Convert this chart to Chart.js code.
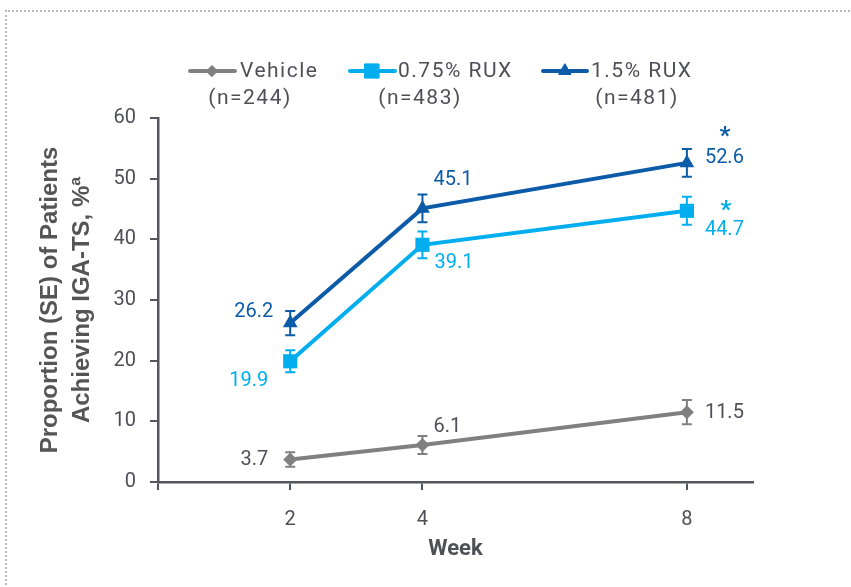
<!DOCTYPE html>
<html>
<head>
<meta charset="utf-8">
<script src="https://cdn.jsdelivr.net/npm/chart.js@4.4.1/dist/chart.umd.min.js"></script>
<style>
  html, body { margin: 0; padding: 0; background: #fff; }
  #wrap { position: relative; width: 851px; height: 587px; overflow: hidden; }
  #frame { position: absolute; left: 5px; top: 10px; right: -10px; bottom: -10px;
           border-top: 2px dotted #b8b8b8; border-left: 2px dotted #b8b8b8; }
  #c { position: absolute; left: 0; top: 0; }
</style>
</head>
<body>
<div id="wrap"><div id="frame"></div><canvas id="c" width="851" height="587"></canvas></div>
<script>
// ---- data ----
const weeks = [2, 4, 8];
const xTickLabels = ['2', '4', '8'];
const yTicks = [0, 10, 20, 30, 40, 50, 60];

const seriesNames = ['Vehicle', '0.75% RUX', '1.5% RUX'];
const seriesN = ['(n=244)', '(n=483)', '(n=481)'];

const vehicle   = [3.7, 6.1, 11.5];
const vehicleSE = [1.2, 1.5, 2.0];
const rux075    = [19.9, 39.1, 44.7];
const rux075SE  = [1.8, 2.2, 2.3];
const rux15     = [26.2, 45.1, 52.6];
const rux15SE   = [2.0, 2.3, 2.3];

// significance markers (asterisk) per point
const vehicleSig = [false, false, false];
const rux075Sig  = [false, false, true];
const rux15Sig   = [false, false, true];

// ---- styling ----
const TEXT = '#4f4f58';
const AXIS = '#55555d';
const GRAY = '#808080';
const LIGHT = '#00aeef';
const DARK = '#0b5ba8';
const FONT = 'Roboto';

// value label placement relative to each point: [dx, dy, align]
const labelPos = [
  [[-22, 0, 'right'], [25, -18, 'center'], [18, 1, 'left']],
  [[-22, 20, 'right'], [12, 18, 'left'], [18, 19, 'left']],
  [[-17, -11, 'right'], [11, -28, 'left'], [18, -5, 'left']]
];
const starPos = [[0, 0], [0, 0], [39, -7]];
const starPos2 = [[0, 0], [0, 0], [38, -33]];

// legend layout
const legendLayout = [
  { x1: 190, x2: 235, mx: 212, tx: 240, nx: 250, r: 5.5, style: 'rectRot' },
  { x1: 350, x2: 395, mx: 372, tx: 398, nx: 420, r: 10, style: 'rect' },
  { x1: 543, x2: 587, mx: 565, tx: 591, nx: 637, r: 7, style: 'triangle' }
];

const pts = arr => arr.map((v, i) => ({ x: weeks[i], y: v }));

const seriesMeta = [
  { name: seriesNames[0], n: seriesN[0], values: vehicle, se: vehicleSE, sig: vehicleSig, color: GRAY, style: 'rectRot', radius: 7 },
  { name: seriesNames[1], n: seriesN[1], values: rux075, se: rux075SE, sig: rux075Sig, color: LIGHT, style: 'rect', radius: 10 },
  { name: seriesNames[2], n: seriesN[2], values: rux15, se: rux15SE, sig: rux15Sig, color: DARK, style: 'triangle', radius: 8.5 }
];

// error bars (±SE) drawn through the chart's scales
const errorBars = {
  id: 'errorBars',
  afterDatasetsDraw(chart) {
    const ctx = chart.ctx;
    const xs = chart.scales.x, ys = chart.scales.y;
    seriesMeta.forEach(s => {
      ctx.save();
      ctx.strokeStyle = s.color;
      ctx.lineWidth = 2;
      s.values.forEach((v, i) => {
        const x = xs.getPixelForValue(weeks[i]);
        const yT = ys.getPixelForValue(v + s.se[i]);
        const yB = ys.getPixelForValue(v - s.se[i]);
        ctx.beginPath();
        ctx.moveTo(x, yT); ctx.lineTo(x, yB);
        ctx.moveTo(x - 5, yT); ctx.lineTo(x + 5, yT);
        ctx.moveTo(x - 5, yB); ctx.lineTo(x + 5, yB);
        ctx.stroke();
      });
      ctx.restore();
    });
  }
};

// value labels and significance asterisks
const valueLabels = {
  id: 'valueLabels',
  afterDraw(chart) {
    const ctx = chart.ctx;
    const xs = chart.scales.x, ys = chart.scales.y;
    seriesMeta.forEach((s, si) => {
      s.values.forEach((v, i) => {
        const x = xs.getPixelForValue(weeks[i]);
        const y = ys.getPixelForValue(v);
        const [dx, dy, align] = labelPos[si][i];
        ctx.save();
        ctx.fillStyle = si === 0 ? TEXT : s.color;
        ctx.font = `20px ${FONT}`;
        ctx.textAlign = align;
        ctx.textBaseline = 'middle';
        ctx.fillText(v.toFixed(1), x + dx, y + dy);
        if (s.sig[i]) {
          const sp = si === 1 ? starPos[i] : starPos2[i];
          ctx.font = `bold 24px ${FONT}`;
          ctx.textAlign = 'center';
          ctx.textBaseline = 'alphabetic';
          ctx.fillText('*', x + sp[0], y + sp[1] + 13);
        }
        ctx.restore();
      });
    });
  }
};

// legend: line with marker, name, and group size beneath
const lineLegend = {
  id: 'lineLegend',
  afterDraw(chart) {
    const ctx = chart.ctx;
    const y = 71;
    seriesMeta.forEach((s, i) => {
      const L = legendLayout[i];
      ctx.save();
      ctx.strokeStyle = s.color;
      ctx.lineWidth = 4;
      ctx.lineCap = 'round';
      ctx.beginPath();
      ctx.moveTo(L.x1, y); ctx.lineTo(L.x2, y);
      ctx.stroke();
      ctx.fillStyle = s.color;
      ctx.lineWidth = 1;
      Chart.helpers.drawPoint(ctx, { pointStyle: L.style, radius: L.r, rotation: 0, borderWidth: 1 }, L.mx, y);
      ctx.fill();
      ctx.fillStyle = TEXT;
      ctx.font = `21px ${FONT}`;
      ctx.letterSpacing = '1.5px';
      ctx.textBaseline = 'middle';
      ctx.textAlign = 'left';
      ctx.fillText(s.name, L.tx, y + 1);
      ctx.textAlign = 'center';
      ctx.fillText(s.n, L.nx, y + 28);
      ctx.restore();
    });
  }
};

new Chart(document.getElementById('c'), {
  type: 'line',
  data: {
    datasets: seriesMeta.map(s => ({
      label: s.name,
      data: pts(s.values),
      borderColor: s.color,
      backgroundColor: s.color,
      borderWidth: 4,
      tension: 0,
      pointStyle: s.style,
      pointRadius: s.radius,
      pointBorderWidth: 0,
      pointBackgroundColor: s.color
    }))
  },
  options: {
    responsive: false,
    animation: false,
    events: [],
    layout: { padding: { top: 118, right: 98, left: 0, bottom: 0 } },
    plugins: { legend: { display: false }, tooltip: { enabled: false } },
    scales: {
      x: {
        type: 'linear',
        min: 0,
        max: 9,
        afterBuildTicks(s) { s.ticks = [0].concat(weeks).map(v => ({ value: v })); },
        afterFit(s) { s.height = 105; },
        ticks: {
          autoSkip: false,
          color: TEXT,
          font: { family: FONT, size: 20 },
          padding: 18,
          callback(v) { const k = weeks.indexOf(v); return k >= 0 ? xTickLabels[k] : ''; }
        },
        grid: { drawOnChartArea: false, drawTicks: true, tickLength: 8, color: AXIS, lineWidth: 2 },
        border: { color: AXIS, width: 2.5 },
        title: {
          display: true,
          text: 'Week',
          color: TEXT,
          font: { family: FONT, size: 22, weight: 'bold' },
          padding: { top: 4, bottom: 24 }
        }
      },
      y: {
        min: 0,
        max: 60,
        afterBuildTicks(s) { s.ticks = yTicks.map(v => ({ value: v })); },
        afterFit(s) { s.width = 158; },
        ticks: {
          color: TEXT,
          font: { family: FONT, size: 20 },
          padding: 14
        },
        grid: { drawOnChartArea: false, drawTicks: true, tickLength: 8, color: AXIS, lineWidth: 2 },
        border: { color: AXIS, width: 2.5 },
        title: {
          display: true,
          text: ['Proportion (SE) of Patients', 'Achieving IGA-TS, %ª'],
          color: '#555555',
          font: { family: 'Liberation Sans', size: 24, weight: 'bold', lineHeight: 1.35 },
          padding: { top: 34, bottom: 0 }
        }
      }
    }
  },
  plugins: [errorBars, valueLabels, lineLegend]
});
</script>
</body>
</html>
